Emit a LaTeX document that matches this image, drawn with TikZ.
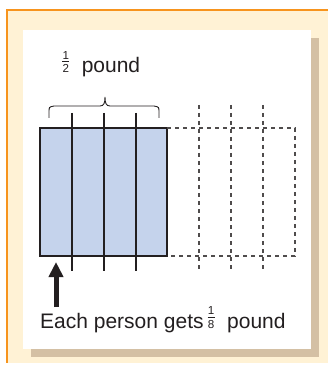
\documentclass[tikz,border=0pt]{standalone}
\usepackage{fontspec}
\setmainfont{Liberation Sans}
\usetikzlibrary{arrows.meta}
\definecolor{orangeb}{RGB}{247,148,29}
\definecolor{cream}{RGB}{255,242,213}
\definecolor{tan}{RGB}{212,192,164}
\definecolor{pieceblue}{RGB}{197,211,236}
\definecolor{ink}{RGB}{35,31,32}
\newcommand\myfr[2]{\vbox{\fontsize{11.6}{12}\selectfont\offinterlineskip
  \halign{\hfil\kern0.3pt##\kern0.3pt\hfil\cr #1\cr\noalign{\kern2.4pt\hrule height 0.8pt\kern2.6pt}#2\cr}}}
\tikzset{
  solidcut/.style={ink, line width=1.8pt},
  dashcut/.style={ink!80, line width=1.2pt, dash pattern=on 4pt off 4pt},
  lbl/.style={anchor=base west, inner sep=0pt, text=ink, font=\fontsize{21}{24}\selectfont},
}
\begin{document}
\begin{tikzpicture}[x=1pt,y=-1pt]
\useasboundingbox (0,0) rectangle (328,366);
\fill[white] (0,0) rectangle (328,366);
% frame
\fill[cream] (8,11) rectangle (328,363);
\fill[orangeb] (6,9) rectangle (328,11);
\fill[orangeb] (6,9) rectangle (8,363);
\fill[tan] (31,38) rectangle (319,357);
\fill[white] (23,30) rectangle (311,349);
% half pound block
\draw[ink, line width=1.4pt, fill=pieceblue] (40,128) rectangle (167,256);
\draw[dashcut] (167,128) -- (295,128) -- (295,256) -- (167,256);
\foreach \x in {72,104,136} \draw[solidcut] (\x,113) -- (\x,271);
\foreach \x in {199,231,263} \draw[dashcut] (\x,105) -- (\x,271);
% brace
\draw[ink, line width=0.9pt] (49,118) -- (49,112) .. controls (49,107) .. (54,106) -- (100,106)
  .. controls (104,106) and (105,103) .. (105,97)
  .. controls (105,103) and (106,106) .. (110,106) -- (154,106)
  .. controls (159,107) .. (159,112) -- (159,118);
% labels
\node[lbl] (half) at (62,73) {\myfr{1}{2}\hspace{12.5pt}pound};
\node[lbl] (each) at (40,328.5) {Each person gets\hspace{4pt}\myfr{1}{8}\hspace{12.5pt}pound};
\coordinate (tip) at (56,262);
\coordinate (tail) at (56,307);
\draw[ink, line width=5pt, -{Triangle[length=15pt,width=14pt]}] (tail) -- (tip);
\end{tikzpicture}
\end{document}
